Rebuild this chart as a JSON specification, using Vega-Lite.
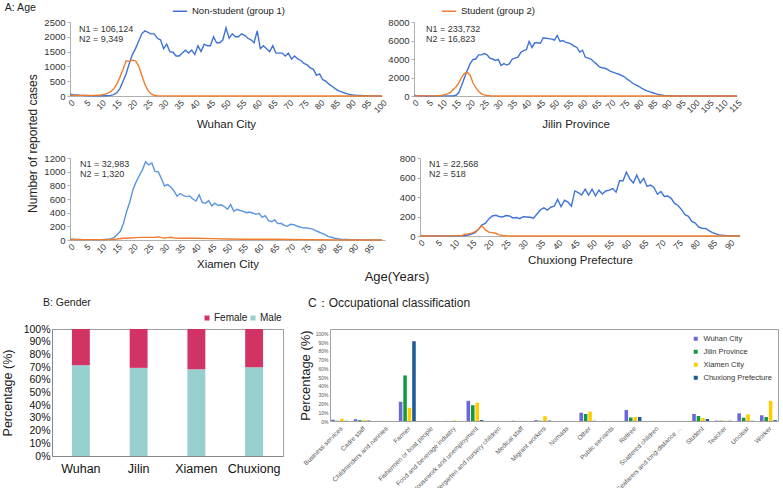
{
"$schema": "https://vega.github.io/schema/vega-lite/v6.json",
"background": "white",
"padding": {"left": 0, "top": 2, "right": 0, "bottom": 0},
"config": {
 "font": "Liberation Sans",
 "view": {"stroke": null},
 "axis": {"grid": false, "ticks": false, "domainColor": "#B0B0B0", "tickColor": "#B0B0B0", "labelColor": "#333333", "titleColor": "#222222", "titleFontWeight": "normal", "labelFontSize": 8.5, "titleFontSize": 11.5, "labelOverlap": false},
 "title": {"fontWeight": "normal", "color": "#222222"},
 "legend": {"labelColor": "#222222"}
},
"datasets": {
"wuhan": [
{"a":0,"g":"N","v":60},{"a":1,"g":"N","v":45},{"a":2,"g":"N","v":35},{"a":3,"g":"N","v":25},{"a":4,"g":"N","v":20},{"a":5,"g":"N","v":15},{"a":6,"g":"N","v":10},{"a":7,"g":"N","v":8},{"a":8,"g":"N","v":6},{"a":9,"g":"N","v":6},
{"a":10,"g":"N","v":6},{"a":11,"g":"N","v":8},{"a":12,"g":"N","v":10},{"a":13,"g":"N","v":20},{"a":14,"g":"N","v":45},{"a":15,"g":"N","v":110},{"a":16,"g":"N","v":250},{"a":17,"g":"N","v":500},{"a":18,"g":"N","v":750},{"a":19,"g":"N","v":1100},
{"a":20,"g":"N","v":1400},{"a":21,"g":"N","v":1600},{"a":22,"g":"N","v":1850},{"a":23,"g":"N","v":2100},{"a":24,"g":"N","v":2200},{"a":25,"g":"N","v":2150},{"a":26,"g":"N","v":2100},{"a":27,"g":"N","v":2100},{"a":28,"g":"N","v":1950},{"a":29,"g":"N","v":1900},
{"a":30,"g":"N","v":1600},{"a":31,"g":"N","v":1750},{"a":32,"g":"N","v":1500},{"a":33,"g":"N","v":1480},{"a":34,"g":"N","v":1350},{"a":35,"g":"N","v":1350},{"a":36,"g":"N","v":1450},{"a":37,"g":"N","v":1550},{"a":38,"g":"N","v":1450},{"a":39,"g":"N","v":1550},
{"a":40,"g":"N","v":1400},{"a":41,"g":"N","v":1700},{"a":42,"g":"N","v":1500},{"a":43,"g":"N","v":1750},{"a":44,"g":"N","v":1700},{"a":45,"g":"N","v":1700},{"a":46,"g":"N","v":2000},{"a":47,"g":"N","v":1800},{"a":48,"g":"N","v":1800},{"a":49,"g":"N","v":1900},
{"a":50,"g":"N","v":2300},{"a":51,"g":"N","v":1950},{"a":52,"g":"N","v":2100},{"a":53,"g":"N","v":2000},{"a":54,"g":"N","v":2000},{"a":55,"g":"N","v":2100},{"a":56,"g":"N","v":2050},{"a":57,"g":"N","v":1950},{"a":58,"g":"N","v":1900},{"a":59,"g":"N","v":1800},
{"a":60,"g":"N","v":2200},{"a":61,"g":"N","v":1600},{"a":62,"g":"N","v":1700},{"a":63,"g":"N","v":1600},{"a":64,"g":"N","v":1500},{"a":65,"g":"N","v":1700},{"a":66,"g":"N","v":1450},{"a":67,"g":"N","v":1450},{"a":68,"g":"N","v":1450},{"a":69,"g":"N","v":1350},
{"a":70,"g":"N","v":1450},{"a":71,"g":"N","v":1250},{"a":72,"g":"N","v":1350},{"a":73,"g":"N","v":1250},{"a":74,"g":"N","v":1200},{"a":75,"g":"N","v":1100},{"a":76,"g":"N","v":1050},{"a":77,"g":"N","v":950},{"a":78,"g":"N","v":900},{"a":79,"g":"N","v":700},
{"a":80,"g":"N","v":750},{"a":81,"g":"N","v":550},{"a":82,"g":"N","v":500},{"a":83,"g":"N","v":400},{"a":84,"g":"N","v":330},{"a":85,"g":"N","v":250},{"a":86,"g":"N","v":180},{"a":87,"g":"N","v":140},{"a":88,"g":"N","v":100},{"a":89,"g":"N","v":70},
{"a":90,"g":"N","v":40},{"a":91,"g":"N","v":30},{"a":92,"g":"N","v":20},{"a":93,"g":"N","v":15},{"a":94,"g":"N","v":10},{"a":95,"g":"N","v":6},{"a":96,"g":"N","v":4},{"a":97,"g":"N","v":3},{"a":98,"g":"N","v":2},{"a":99,"g":"N","v":1},{"a":100,"g":"N","v":1},
{"a":0,"g":"S","v":20},{"a":5,"g":"S","v":20},{"a":8,"g":"S","v":25},{"a":10,"g":"S","v":35},{"a":11,"g":"S","v":55},{"a":12,"g":"S","v":90},{"a":13,"g":"S","v":150},{"a":14,"g":"S","v":235},{"a":15,"g":"S","v":400},{"a":16,"g":"S","v":630},{"a":17,"g":"S","v":900},{"a":18,"g":"S","v":1190},{"a":19,"g":"S","v":1170},{"a":20,"g":"S","v":1210},{"a":21,"g":"S","v":1190},{"a":22,"g":"S","v":1020},{"a":23,"g":"S","v":700},{"a":24,"g":"S","v":400},{"a":25,"g":"S","v":180},{"a":26,"g":"S","v":70},{"a":27,"g":"S","v":25},{"a":28,"g":"S","v":10},{"a":30,"g":"S","v":5},{"a":35,"g":"S","v":2},{"a":40,"g":"S","v":0},{"a":100,"g":"S","v":0}
],
"jilin": [
{"a":0,"g":"N","v":100},{"a":1,"g":"N","v":40},{"a":2,"g":"N","v":15},{"a":3,"g":"N","v":10},{"a":4,"g":"N","v":8},{"a":5,"g":"N","v":8},{"a":6,"g":"N","v":8},{"a":7,"g":"N","v":8},{"a":8,"g":"N","v":8},{"a":9,"g":"N","v":8},
{"a":10,"g":"N","v":10},{"a":11,"g":"N","v":10},{"a":12,"g":"N","v":12},{"a":13,"g":"N","v":15},{"a":14,"g":"N","v":25},{"a":15,"g":"N","v":80},{"a":16,"g":"N","v":400},{"a":17,"g":"N","v":1200},{"a":18,"g":"N","v":2000},{"a":19,"g":"N","v":2800},
{"a":20,"g":"N","v":3500},{"a":21,"g":"N","v":3950},{"a":22,"g":"N","v":4000},{"a":23,"g":"N","v":4450},{"a":24,"g":"N","v":4450},{"a":25,"g":"N","v":4580},{"a":26,"g":"N","v":4450},{"a":27,"g":"N","v":4100},{"a":28,"g":"N","v":4000},{"a":29,"g":"N","v":3850},
{"a":30,"g":"N","v":3960},{"a":31,"g":"N","v":3300},{"a":32,"g":"N","v":3500},{"a":33,"g":"N","v":3350},{"a":34,"g":"N","v":3500},{"a":35,"g":"N","v":4000},{"a":36,"g":"N","v":4100},{"a":37,"g":"N","v":4200},{"a":38,"g":"N","v":4700},{"a":39,"g":"N","v":4900},
{"a":40,"g":"N","v":5000},{"a":41,"g":"N","v":5900},{"a":42,"g":"N","v":5250},{"a":43,"g":"N","v":5750},{"a":44,"g":"N","v":5750},{"a":45,"g":"N","v":5700},{"a":46,"g":"N","v":6300},{"a":47,"g":"N","v":6250},{"a":48,"g":"N","v":6200},{"a":49,"g":"N","v":6150},
{"a":50,"g":"N","v":6050},{"a":51,"g":"N","v":6550},{"a":52,"g":"N","v":5900},{"a":53,"g":"N","v":6000},{"a":54,"g":"N","v":5800},{"a":55,"g":"N","v":5750},{"a":56,"g":"N","v":5600},{"a":57,"g":"N","v":5400},{"a":58,"g":"N","v":5250},{"a":59,"g":"N","v":4750},
{"a":60,"g":"N","v":4950},{"a":61,"g":"N","v":4200},{"a":62,"g":"N","v":4100},{"a":63,"g":"N","v":4000},{"a":64,"g":"N","v":3700},{"a":65,"g":"N","v":3450},{"a":66,"g":"N","v":3150},{"a":67,"g":"N","v":3050},{"a":68,"g":"N","v":3000},{"a":69,"g":"N","v":2850},
{"a":70,"g":"N","v":2650},{"a":71,"g":"N","v":2550},{"a":72,"g":"N","v":2450},{"a":73,"g":"N","v":2350},{"a":74,"g":"N","v":2200},{"a":75,"g":"N","v":2050},{"a":76,"g":"N","v":1800},{"a":77,"g":"N","v":1600},{"a":78,"g":"N","v":1350},{"a":79,"g":"N","v":1200},
{"a":80,"g":"N","v":1050},{"a":81,"g":"N","v":850},{"a":82,"g":"N","v":700},{"a":83,"g":"N","v":560},{"a":84,"g":"N","v":440},{"a":85,"g":"N","v":350},{"a":86,"g":"N","v":250},{"a":87,"g":"N","v":170},{"a":88,"g":"N","v":110},{"a":89,"g":"N","v":70},
{"a":90,"g":"N","v":40},{"a":91,"g":"N","v":25},{"a":92,"g":"N","v":15},{"a":93,"g":"N","v":10},{"a":94,"g":"N","v":6},{"a":95,"g":"N","v":4},{"a":96,"g":"N","v":3},{"a":97,"g":"N","v":2},{"a":98,"g":"N","v":2},{"a":99,"g":"N","v":1},{"a":100,"g":"N","v":1},{"a":105,"g":"N","v":0},{"a":110,"g":"N","v":0},{"a":115,"g":"N","v":0},
{"a":0,"g":"S","v":10},{"a":5,"g":"S","v":10},{"a":8,"g":"S","v":20},{"a":9,"g":"S","v":40},{"a":10,"g":"S","v":80},{"a":11,"g":"S","v":150},{"a":12,"g":"S","v":250},{"a":13,"g":"S","v":400},{"a":14,"g":"S","v":700},{"a":15,"g":"S","v":1000},{"a":16,"g":"S","v":1450},{"a":17,"g":"S","v":2050},{"a":18,"g":"S","v":2450},{"a":19,"g":"S","v":2550},{"a":20,"g":"S","v":2250},{"a":21,"g":"S","v":1400},{"a":22,"g":"S","v":900},{"a":23,"g":"S","v":500},{"a":24,"g":"S","v":230},{"a":25,"g":"S","v":120},{"a":26,"g":"S","v":50},{"a":27,"g":"S","v":20},{"a":28,"g":"S","v":8},{"a":30,"g":"S","v":3},{"a":35,"g":"S","v":0},{"a":115,"g":"S","v":0}
],
"xiamen": [
{"a":0,"g":"N","v":15},{"a":1,"g":"N","v":10},{"a":2,"g":"N","v":8},{"a":3,"g":"N","v":7},{"a":4,"g":"N","v":6},{"a":5,"g":"N","v":6},{"a":6,"g":"N","v":5},{"a":7,"g":"N","v":5},{"a":8,"g":"N","v":5},{"a":9,"g":"N","v":5},
{"a":10,"g":"N","v":6},{"a":11,"g":"N","v":8},{"a":12,"g":"N","v":10},{"a":13,"g":"N","v":18},{"a":14,"g":"N","v":35},{"a":15,"g":"N","v":80},{"a":16,"g":"N","v":127},{"a":17,"g":"N","v":250},{"a":18,"g":"N","v":420},{"a":19,"g":"N","v":560},
{"a":20,"g":"N","v":740},{"a":21,"g":"N","v":850},{"a":22,"g":"N","v":940},{"a":23,"g":"N","v":1030},{"a":24,"g":"N","v":1146},{"a":25,"g":"N","v":1100},{"a":26,"g":"N","v":1127},{"a":27,"g":"N","v":1000},{"a":28,"g":"N","v":1000},{"a":29,"g":"N","v":900},
{"a":30,"g":"N","v":790},{"a":31,"g":"N","v":810},{"a":32,"g":"N","v":775},{"a":33,"g":"N","v":720},{"a":34,"g":"N","v":640},{"a":35,"g":"N","v":680},{"a":36,"g":"N","v":650},{"a":37,"g":"N","v":635},{"a":38,"g":"N","v":645},{"a":39,"g":"N","v":600},
{"a":40,"g":"N","v":570},{"a":41,"g":"N","v":660},{"a":42,"g":"N","v":550},{"a":43,"g":"N","v":537},{"a":44,"g":"N","v":576},{"a":45,"g":"N","v":500},{"a":46,"g":"N","v":540},{"a":47,"g":"N","v":505},{"a":48,"g":"N","v":515},{"a":49,"g":"N","v":490},
{"a":50,"g":"N","v":450},{"a":51,"g":"N","v":520},{"a":52,"g":"N","v":420},{"a":53,"g":"N","v":450},{"a":54,"g":"N","v":432},{"a":55,"g":"N","v":420},{"a":56,"g":"N","v":400},{"a":57,"g":"N","v":410},{"a":58,"g":"N","v":395},{"a":59,"g":"N","v":375},
{"a":60,"g":"N","v":390},{"a":61,"g":"N","v":330},{"a":62,"g":"N","v":356},{"a":63,"g":"N","v":283},{"a":64,"g":"N","v":268},{"a":65,"g":"N","v":293},{"a":66,"g":"N","v":240},{"a":67,"g":"N","v":244},{"a":68,"g":"N","v":215},{"a":69,"g":"N","v":200},
{"a":70,"g":"N","v":230},{"a":71,"g":"N","v":225},{"a":72,"g":"N","v":205},{"a":73,"g":"N","v":190},{"a":74,"g":"N","v":178},{"a":75,"g":"N","v":175},{"a":76,"g":"N","v":170},{"a":77,"g":"N","v":160},{"a":78,"g":"N","v":137},{"a":79,"g":"N","v":117},
{"a":80,"g":"N","v":98},{"a":81,"g":"N","v":78},{"a":82,"g":"N","v":50},{"a":83,"g":"N","v":40},{"a":84,"g":"N","v":26},{"a":85,"g":"N","v":18},{"a":86,"g":"N","v":12},{"a":87,"g":"N","v":9},{"a":88,"g":"N","v":7},{"a":89,"g":"N","v":5},
{"a":90,"g":"N","v":4},{"a":91,"g":"N","v":3},{"a":92,"g":"N","v":2},{"a":93,"g":"N","v":2},{"a":94,"g":"N","v":1},{"a":95,"g":"N","v":1},{"a":96,"g":"N","v":1},{"a":97,"g":"N","v":0},{"a":98,"g":"N","v":0},{"a":99,"g":"N","v":0},
{"a":0,"g":"S","v":8},{"a":5,"g":"S","v":5},{"a":10,"g":"S","v":5},{"a":13,"g":"S","v":8},{"a":15,"g":"S","v":15},{"a":17,"g":"S","v":25},{"a":19,"g":"S","v":30},{"a":21,"g":"S","v":35},{"a":23,"g":"S","v":38},{"a":25,"g":"S","v":38},{"a":27,"g":"S","v":40},{"a":28,"g":"S","v":45},{"a":29,"g":"S","v":35},{"a":30,"g":"S","v":30},{"a":31,"g":"S","v":35},{"a":32,"g":"S","v":40},{"a":33,"g":"S","v":30},{"a":35,"g":"S","v":25},{"a":40,"g":"S","v":25},{"a":45,"g":"S","v":20},{"a":50,"g":"S","v":15},{"a":55,"g":"S","v":12},{"a":60,"g":"S","v":12},{"a":65,"g":"S","v":10},{"a":70,"g":"S","v":8},{"a":75,"g":"S","v":6},{"a":80,"g":"S","v":4},{"a":85,"g":"S","v":2},{"a":90,"g":"S","v":1},{"a":99,"g":"S","v":0}
],
"chuxiong": [
{"a":0,"g":"N","v":2},{"a":1,"g":"N","v":2},{"a":2,"g":"N","v":1},{"a":3,"g":"N","v":1},{"a":4,"g":"N","v":1},{"a":5,"g":"N","v":2},{"a":6,"g":"N","v":1},{"a":7,"g":"N","v":1},{"a":8,"g":"N","v":1},{"a":9,"g":"N","v":1},
{"a":10,"g":"N","v":1},{"a":11,"g":"N","v":2},{"a":12,"g":"N","v":3},{"a":13,"g":"N","v":5},{"a":14,"g":"N","v":10},{"a":15,"g":"N","v":20},{"a":16,"g":"N","v":35},{"a":17,"g":"N","v":70},{"a":18,"g":"N","v":115},{"a":19,"g":"N","v":130},
{"a":20,"g":"N","v":175},{"a":21,"g":"N","v":205},{"a":22,"g":"N","v":212},{"a":23,"g":"N","v":200},{"a":24,"g":"N","v":195},{"a":25,"g":"N","v":210},{"a":26,"g":"N","v":205},{"a":27,"g":"N","v":185},{"a":28,"g":"N","v":190},{"a":29,"g":"N","v":178},
{"a":30,"g":"N","v":198},{"a":31,"g":"N","v":195},{"a":32,"g":"N","v":192},{"a":33,"g":"N","v":182},{"a":34,"g":"N","v":225},{"a":35,"g":"N","v":268},{"a":36,"g":"N","v":290},{"a":37,"g":"N","v":265},{"a":38,"g":"N","v":295},{"a":39,"g":"N","v":305},
{"a":40,"g":"N","v":375},{"a":41,"g":"N","v":300},{"a":42,"g":"N","v":368},{"a":43,"g":"N","v":348},{"a":44,"g":"N","v":306},{"a":45,"g":"N","v":462},{"a":46,"g":"N","v":445},{"a":47,"g":"N","v":420},{"a":48,"g":"N","v":480},{"a":49,"g":"N","v":420},
{"a":50,"g":"N","v":480},{"a":51,"g":"N","v":412},{"a":52,"g":"N","v":470},{"a":53,"g":"N","v":430},{"a":54,"g":"N","v":462},{"a":55,"g":"N","v":470},{"a":56,"g":"N","v":487},{"a":57,"g":"N","v":450},{"a":58,"g":"N","v":567},{"a":59,"g":"N","v":567},
{"a":60,"g":"N","v":654},{"a":61,"g":"N","v":584},{"a":62,"g":"N","v":543},{"a":63,"g":"N","v":626},{"a":64,"g":"N","v":543},{"a":65,"g":"N","v":591},{"a":66,"g":"N","v":508},{"a":67,"g":"N","v":522},{"a":68,"g":"N","v":497},{"a":69,"g":"N","v":428},
{"a":70,"g":"N","v":456},{"a":71,"g":"N","v":405},{"a":72,"g":"N","v":410},{"a":73,"g":"N","v":386},{"a":74,"g":"N","v":334},{"a":75,"g":"N","v":313},{"a":76,"g":"N","v":271},{"a":77,"g":"N","v":219},{"a":78,"g":"N","v":202},{"a":79,"g":"N","v":150},
{"a":80,"g":"N","v":132},{"a":81,"g":"N","v":90},{"a":82,"g":"N","v":80},{"a":83,"g":"N","v":77},{"a":84,"g":"N","v":56},{"a":85,"g":"N","v":35},{"a":86,"g":"N","v":21},{"a":87,"g":"N","v":12},{"a":88,"g":"N","v":7},{"a":89,"g":"N","v":4},
{"a":90,"g":"N","v":3},{"a":91,"g":"N","v":2},{"a":92,"g":"N","v":1},{"a":93,"g":"N","v":1},
{"a":0,"g":"S","v":0},{"a":5,"g":"S","v":1},{"a":10,"g":"S","v":1},{"a":12,"g":"S","v":2},{"a":13,"g":"S","v":18},{"a":14,"g":"S","v":22},{"a":15,"g":"S","v":30},{"a":16,"g":"S","v":45},{"a":17,"g":"S","v":70},{"a":18,"g":"S","v":104},{"a":19,"g":"S","v":63},{"a":20,"g":"S","v":40},{"a":21,"g":"S","v":35},{"a":22,"g":"S","v":28},{"a":23,"g":"S","v":12},{"a":24,"g":"S","v":5},{"a":25,"g":"S","v":2},{"a":26,"g":"S","v":0},{"a":93,"g":"S","v":0}
]
},
"spacing": 11,
"resolve": {"scale": {"color": "independent"}},
"vconcat": [
 {
  "title": {"text": "A: Age", "anchor": "start", "fontSize": 10.5, "offset": 0, "dx": -22, "dy": 10},
  "vconcat": [
   {
    "title": {"text": "Age(Years)", "orient": "bottom", "anchor": "middle", "fontSize": 13, "font": "Liberation Sans Narrow, Liberation Sans, sans-serif", "offset": 1, "dx": 12},
    "vconcat": [
     {
      "title": {"text": "Number of reported cases", "orient": "left", "anchor": "middle", "fontSize": 12, "offset": 4},
      "spacing": -10,
      "hconcat": [
       {
        "width": 1, "height": 1,
        "data": {"values": [{"k": 0}]},
        "mark": {"type": "point", "opacity": 0, "size": 1},
        "encoding": {}
       },
       {
        "spacing": 23,
        "vconcat": [
         {
          "spacing": -2,
          "hconcat": [
           {
            "width": 312, "height": 74,
            "data": {"name": "wuhan"},
            "title": {"text": ["N1 = 106,124", "N2 = 9,349"], "anchor": "start", "frame": "group", "dx": 9, "offset": -27, "fontSize": 9, "lineHeight": 10, "color": "#333333"},
            "mark": {"type": "line", "strokeWidth": 1.4},
            "encoding": {
             "x": {"field": "a", "type": "quantitative", "scale": {"domain": [0, 100], "nice": false}, "axis": {"values": [0,5,10,15,20,25,30,35,40,45,50,55,60,65,70,75,80,85,90,95,100], "labelAngle": -45, "title": "Wuhan City", "titlePadding": 4, "labelPadding": 2}},
             "y": {"field": "v", "type": "quantitative", "scale": {"domain": [0, 2500], "nice": false}, "axis": {"values": [0,500,1000,1500,2000,2500], "format": "d", "title": null, "labelFontSize": 9.5, "ticks": true, "tickSize": 3, "labelPadding": 2}},
             "color": {"field": "g", "type": "nominal", "scale": {"domain": ["N", "S"], "range": ["#3F74D6", "#F07D2E"]},
              "legend": {"orient": "none", "legendX": 120, "legendY": -19, "direction": "horizontal", "title": null, "symbolType": "stroke", "symbolStrokeWidth": 1.5, "symbolSize": 200, "labelFontSize": 9.5, "columnPadding": 153, "labelExpr": "datum.value == 'N' ? 'Non-student (group 1)' : 'Student  (group 2)'"}}
            }
           },
           {
            "width": 323, "height": 74,
            "data": {"name": "jilin"},
            "title": {"text": ["N1 = 233,732", "N2 = 16,823"], "anchor": "start", "frame": "group", "dx": 12, "offset": -27, "fontSize": 9, "lineHeight": 10, "color": "#333333"},
            "mark": {"type": "line", "strokeWidth": 1.4},
            "encoding": {
             "x": {"field": "a", "type": "quantitative", "scale": {"domain": [0, 115], "nice": false}, "axis": {"values": [0,5,10,15,20,25,30,35,40,45,50,55,60,65,70,75,80,85,90,95,100,105,110,115], "labelAngle": -45, "title": "Jilin Province", "titlePadding": 4, "labelPadding": 2}},
             "y": {"field": "v", "type": "quantitative", "scale": {"domain": [0, 8000], "nice": false}, "axis": {"values": [0,2000,4000,6000,8000], "format": "d", "title": null, "labelFontSize": 9.5, "ticks": true, "tickSize": 3, "labelPadding": 2}},
             "color": {"field": "g", "type": "nominal"}
            }
           }
          ]
         },
         {
          "spacing": 14,
          "hconcat": [
           {
            "width": 315, "height": 82,
            "data": {"name": "xiamen"},
            "title": {"text": ["N1 = 32,983", "N2 = 1,320"], "anchor": "start", "frame": "group", "dx": 10, "offset": -26, "fontSize": 9, "lineHeight": 10, "color": "#333333"},
            "mark": {"type": "line", "strokeWidth": 1.4},
            "encoding": {
             "x": {"field": "a", "type": "quantitative", "scale": {"domain": [0, 100], "nice": false}, "axis": {"values": [0,5,10,15,20,25,30,35,40,45,50,55,60,65,70,75,80,85,90,95], "labelAngle": -45, "title": "Xiamen City", "titlePadding": 4, "labelPadding": 2}},
             "y": {"field": "v", "type": "quantitative", "scale": {"domain": [0, 1200], "nice": false}, "axis": {"values": [0,200,400,600,800,1000,1200], "format": "d", "title": null, "labelFontSize": 9.5, "ticks": true, "tickSize": 3, "labelPadding": 2}},
             "detail": {"field": "g", "type": "nominal"},
             "color": {"condition": {"test": "datum.g == 'N'", "value": "#5A95E0"}, "value": "#F07D2E"}
            }
           },
           {
            "width": 320, "height": 78,
            "data": {"name": "chuxiong"},
            "title": {"text": ["N1 = 22,568", "N2 = 518"], "anchor": "start", "frame": "group", "dx": 9, "offset": -26, "fontSize": 9, "lineHeight": 10, "color": "#333333"},
            "mark": {"type": "line", "strokeWidth": 1.4},
            "encoding": {
             "x": {"field": "a", "type": "quantitative", "scale": {"domain": [0, 93], "nice": false}, "axis": {"values": [0,5,10,15,20,25,30,35,40,45,50,55,60,65,70,75,80,85,90], "labelAngle": -45, "title": "Chuxiong Prefecture", "titlePadding": 4, "labelPadding": 2}},
             "y": {"field": "v", "type": "quantitative", "scale": {"domain": [0, 800], "nice": false}, "axis": {"values": [0,200,400,600,800], "format": "d", "title": null, "labelFontSize": 9.5, "ticks": true, "tickSize": 3, "labelPadding": 2}},
             "color": {"field": "g", "type": "nominal"}
            }
           }
          ]
         }
        ]
       }
      ]
     }
    ]
   }
  ]
 },
 {
  "spacing": 14,
  "resolve": {"scale": {"color": "independent"}},
  "hconcat": [
   {
    "width": 231, "height": 127,
    "view": {"stroke": "#A0A0A0"},
    "title": {"text": "B: Gender", "anchor": "start", "frame": "group", "dx": -9, "fontSize": 10.5, "offset": 5},
    "data": {"values": [
     {"c": "Wuhan", "s": "Male", "p": 71.5}, {"c": "Wuhan", "s": "Female", "p": 28.5},
     {"c": "Jilin", "s": "Male", "p": 69.4}, {"c": "Jilin", "s": "Female", "p": 30.6},
     {"c": "Xiamen", "s": "Male", "p": 68.3}, {"c": "Xiamen", "s": "Female", "p": 31.7},
     {"c": "Chuxiong", "s": "Male", "p": 69.9}, {"c": "Chuxiong", "s": "Female", "p": 30.1}
    ]},
    "mark": {"type": "bar"},
    "encoding": {
     "x": {"field": "c", "type": "nominal", "sort": ["Wuhan", "Jilin", "Xiamen", "Chuxiong"], "scale": {"paddingInner": 0.69, "paddingOuter": 0.345}, "axis": {"labelAngle": 0, "labelFontSize": 12.5, "labelColor": "#111111", "title": null, "labelPadding": 6, "domainColor": "#888888"}},
     "y": {"field": "p", "type": "quantitative", "stack": "normalize", "scale": {"domain": [0, 1]}, "axis": {"values": [0,0.1,0.2,0.3,0.4,0.5,0.6,0.7,0.8,0.9,1], "format": ".0%", "title": "Percentage (%)", "labelFontSize": 10.5, "labelColor": "#111111", "titleFontSize": 12.5, "domainColor": "#888888", "titlePadding": 9}},
     "color": {"field": "s", "type": "nominal", "scale": {"domain": ["Female", "Male"], "range": ["#D13364", "#97CECE"]},
      "legend": {"orient": "none", "legendX": 150, "legendY": -16, "direction": "horizontal", "title": null, "symbolType": "square", "symbolSize": 25, "symbolStrokeWidth": 0, "labelFontSize": 10, "columnPadding": 0, "labelOffset": 2}},
     "order": {"field": "s", "sort": "descending"}
    }
   },
   {
    "width": 448, "height": 92,
    "view": {"stroke": "#A0A0A0"},
    "title": {"text": "C：Occupational classification", "anchor": "start", "frame": "group", "dx": -22, "fontSize": 12, "offset": 19},
    "data": {"values": [
     {"o": "Business services", "c": "Wuhan City", "p": 1.5}, {"o": "Business services", "c": "Jilin Province", "p": 0.3}, {"o": "Business services", "c": "Xiamen City", "p": 2.5}, {"o": "Business services", "c": "Chuxiong Prefecture", "p": 0.2},
     {"o": "Cadre staff", "c": "Wuhan City", "p": 2}, {"o": "Cadre staff", "c": "Jilin Province", "p": 1}, {"o": "Cadre staff", "c": "Xiamen City", "p": 1}, {"o": "Cadre staff", "c": "Chuxiong Prefecture", "p": 0.5},
     {"o": "Childminders and nannies", "c": "Wuhan City", "p": 0.1}, {"o": "Childminders and nannies", "c": "Jilin Province", "p": 0.05}, {"o": "Childminders and nannies", "c": "Xiamen City", "p": 0.05}, {"o": "Childminders and nannies", "c": "Chuxiong Prefecture", "p": 0.05},
     {"o": "Farmer", "c": "Wuhan City", "p": 22}, {"o": "Farmer", "c": "Jilin Province", "p": 52}, {"o": "Farmer", "c": "Xiamen City", "p": 15}, {"o": "Farmer", "c": "Chuxiong Prefecture", "p": 91},
     {"o": "Fishermen  or  boat  people", "c": "Wuhan City", "p": 0.05}, {"o": "Fishermen  or  boat  people", "c": "Jilin Province", "p": 0}, {"o": "Fishermen  or  boat  people", "c": "Xiamen City", "p": 0}, {"o": "Fishermen  or  boat  people", "c": "Chuxiong Prefecture", "p": 0},
     {"o": "Food and beverage industry", "c": "Wuhan City", "p": 0.1}, {"o": "Food and beverage industry", "c": "Jilin Province", "p": 0.05}, {"o": "Food and beverage industry", "c": "Xiamen City", "p": 0.6}, {"o": "Food and beverage industry", "c": "Chuxiong Prefecture", "p": 0},
     {"o": "Housework and unemployment", "c": "Wuhan City", "p": 23}, {"o": "Housework and unemployment", "c": "Jilin Province", "p": 18}, {"o": "Housework and unemployment", "c": "Xiamen City", "p": 21}, {"o": "Housework and unemployment", "c": "Chuxiong Prefecture", "p": 1},
     {"o": "Kindergarten and nursery children", "c": "Wuhan City", "p": 0.1}, {"o": "Kindergarten and nursery children", "c": "Jilin Province", "p": 0.05}, {"o": "Kindergarten and nursery children", "c": "Xiamen City", "p": 0.1}, {"o": "Kindergarten and nursery children", "c": "Chuxiong Prefecture", "p": 0},
     {"o": "Medical staff", "c": "Wuhan City", "p": 0.3}, {"o": "Medical staff", "c": "Jilin Province", "p": 0.1}, {"o": "Medical staff", "c": "Xiamen City", "p": 0.2}, {"o": "Medical staff", "c": "Chuxiong Prefecture", "p": 0.05},
     {"o": "Migrant workers", "c": "Wuhan City", "p": 1}, {"o": "Migrant workers", "c": "Jilin Province", "p": 0.3}, {"o": "Migrant workers", "c": "Xiamen City", "p": 5.5}, {"o": "Migrant workers", "c": "Chuxiong Prefecture", "p": 0.5},
     {"o": "Nomads", "c": "Wuhan City", "p": 0}, {"o": "Nomads", "c": "Jilin Province", "p": 0}, {"o": "Nomads", "c": "Xiamen City", "p": 0}, {"o": "Nomads", "c": "Chuxiong Prefecture", "p": 0},
     {"o": "Other", "c": "Wuhan City", "p": 9.5}, {"o": "Other", "c": "Jilin Province", "p": 8}, {"o": "Other", "c": "Xiamen City", "p": 10.7}, {"o": "Other", "c": "Chuxiong Prefecture", "p": 0.3},
     {"o": "Public servants", "c": "Wuhan City", "p": 0.1}, {"o": "Public servants", "c": "Jilin Province", "p": 0}, {"o": "Public servants", "c": "Xiamen City", "p": 0.1}, {"o": "Public servants", "c": "Chuxiong Prefecture", "p": 0},
     {"o": "Retiree", "c": "Wuhan City", "p": 12.6}, {"o": "Retiree", "c": "Jilin Province", "p": 4}, {"o": "Retiree", "c": "Xiamen City", "p": 4.6}, {"o": "Retiree", "c": "Chuxiong Prefecture", "p": 4.6},
     {"o": "Scattered children", "c": "Wuhan City", "p": 0.1}, {"o": "Scattered children", "c": "Jilin Province", "p": 0.05}, {"o": "Scattered children", "c": "Xiamen City", "p": 0.1}, {"o": "Scattered children", "c": "Chuxiong Prefecture", "p": 0},
     {"o": "Seafarers and long-distance ...", "c": "Wuhan City", "p": 0}, {"o": "Seafarers and long-distance ...", "c": "Jilin Province", "p": 0}, {"o": "Seafarers and long-distance ...", "c": "Xiamen City", "p": 0}, {"o": "Seafarers and long-distance ...", "c": "Chuxiong Prefecture", "p": 0},
     {"o": "Student", "c": "Wuhan City", "p": 8}, {"o": "Student", "c": "Jilin Province", "p": 5.7}, {"o": "Student", "c": "Xiamen City", "p": 3.4}, {"o": "Student", "c": "Chuxiong Prefecture", "p": 2.3},
     {"o": "Teacher", "c": "Wuhan City", "p": 0.5}, {"o": "Teacher", "c": "Jilin Province", "p": 0.4}, {"o": "Teacher", "c": "Xiamen City", "p": 0.5}, {"o": "Teacher", "c": "Chuxiong Prefecture", "p": 0.3},
     {"o": "Unclear", "c": "Wuhan City", "p": 8.8}, {"o": "Unclear", "c": "Jilin Province", "p": 3.8}, {"o": "Unclear", "c": "Xiamen City", "p": 7.7}, {"o": "Unclear", "c": "Chuxiong Prefecture", "p": 0.2},
     {"o": "Worker", "c": "Wuhan City", "p": 6.5}, {"o": "Worker", "c": "Jilin Province", "p": 4.6}, {"o": "Worker", "c": "Xiamen City", "p": 23}, {"o": "Worker", "c": "Chuxiong Prefecture", "p": 1}
    ]},
    "mark": {"type": "bar"},
    "encoding": {
     "x": {"field": "o", "type": "nominal", "sort": null, "scale": {"paddingInner": 0.25, "paddingOuter": 0.05}, "axis": {"labelAngle": -45, "labelFontSize": 6.5, "labelColor": "#555555", "title": null, "domain": false, "labelLimit": 200, "labelPadding": 4}},
     "xOffset": {"field": "c", "type": "nominal", "sort": ["Wuhan City", "Jilin Province", "Xiamen City", "Chuxiong Prefecture"], "scale": {"paddingInner": 0.2}},
     "y": {"field": "p", "type": "quantitative", "scale": {"domain": [0, 105], "nice": false}, "axis": {"values": [0,10,20,30,40,50,60,70,80,90,100], "labelExpr": "datum.value + '%'", "labelFontSize": 5, "labelColor": "#555555", "title": "Percentage (%)", "titleFontSize": 13, "domain": false, "titlePadding": 3, "labelPadding": 2}},
     "color": {"field": "c", "type": "nominal", "sort": ["Wuhan City", "Jilin Province", "Xiamen City", "Chuxiong Prefecture"], "scale": {"domain": ["Wuhan City", "Jilin Province", "Xiamen City", "Chuxiong Prefecture"], "range": ["#6B67D6", "#149A3C", "#FFCC00", "#1F5A96"]},
      "legend": {"orient": "top-right", "offset": 6, "title": null, "symbolType": "square", "symbolSize": 16, "labelFontSize": 7.5, "rowPadding": 4, "labelColor": "#333333"}}
    }
   }
  ]
 }
]
}
